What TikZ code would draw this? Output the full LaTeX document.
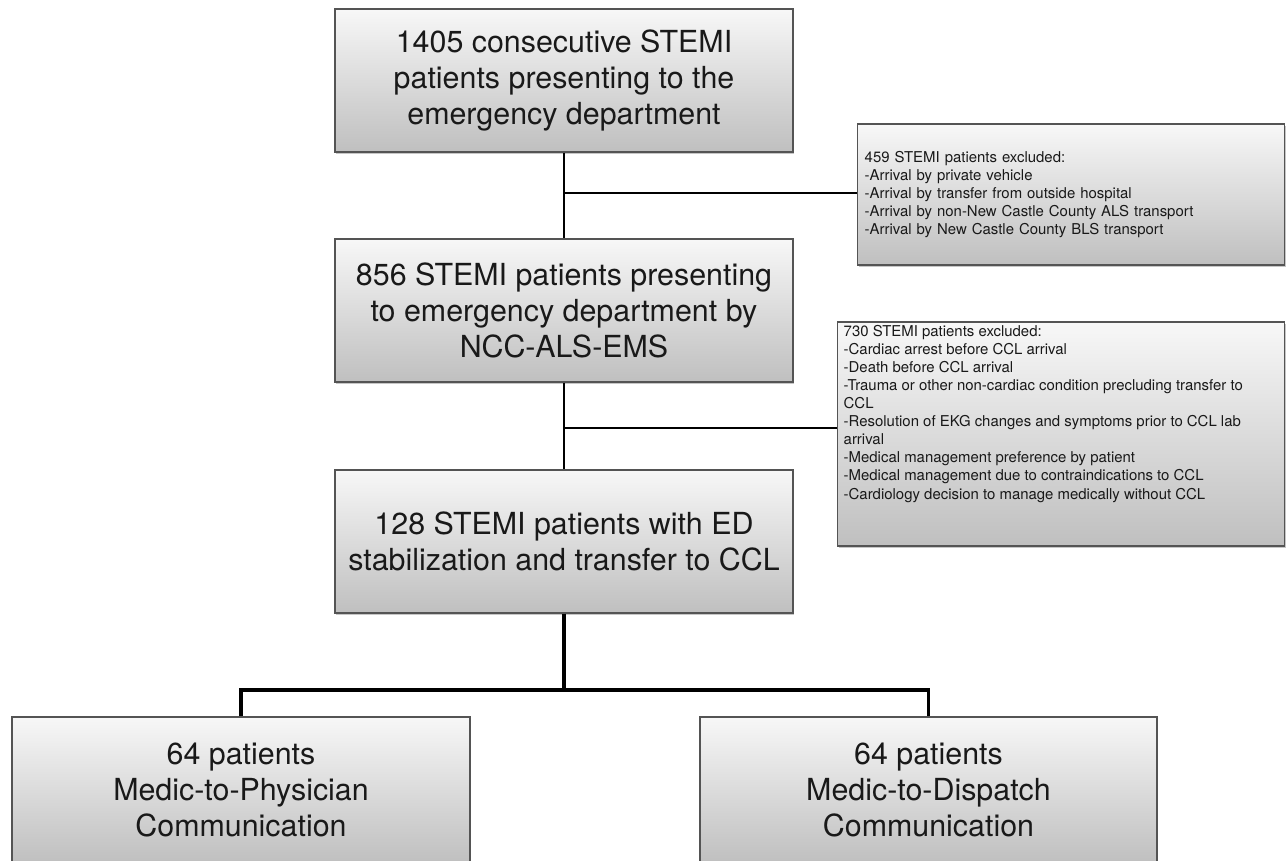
\documentclass[tikz,border=0pt]{standalone}
\usepackage{fontspec}
\setmainfont{TeX Gyre Heros}
\usepackage{xcolor}
\definecolor{BoxTop}{rgb}{0.97, 0.97, 0.97}
\definecolor{BoxBottom}{rgb}{0.75, 0.75, 0.75}
\definecolor{BoxBorder}{rgb}{0.33, 0.33, 0.33}
\definecolor{BoxText}{rgb}{0.1, 0.1, 0.1}
\usepackage{tikz}
\usetikzlibrary{positioning,shadows}
\tikzset{
	flowbox/.style={draw=BoxBorder, line width=0.8pt, top color=BoxTop, bottom color=BoxBottom,
		drop shadow={shadow xshift=0.8pt, shadow yshift=-1pt, opacity=0.45},
		align=center, inner sep=0pt, minimum width=9.16cm, minimum height=2.86cm,
		text=BoxText, font=\fontsize{17.3}{20.6}\selectfont},
	exclbox/.style={draw=BoxBorder, line width=0.8pt, top color=BoxTop, bottom color=BoxBottom,
		drop shadow={shadow xshift=0.8pt, shadow yshift=-1pt, opacity=0.45},
		anchor=west, align=left, inner xsep=0.14cm, inner ysep=0.06cm,
		text=BoxText, font=\fontsize{8.5}{10.3}\selectfont},
	link/.style={line width=1.6pt},
	split/.style={line width=2.2pt, line join=miter},
}

\begin{document}
\begin{tikzpicture}[x=0.02cm, y=-0.02cm]
	\useasboundingbox (0,0) rectangle (1286,860);
	% main chain
	\node[flowbox] (arrivals) at (564,80.5) {1405 consecutive STEMI\\patients presenting to the\\emergency department};
	\node[flowbox] (ems) at (564,310.5) {856 STEMI patients presenting\\to emergency department by\\NCC-ALS-EMS};
	\node[flowbox] (ccl) at (564,541.5) {128 STEMI patients with ED\\stabilization and transfer to CCL};
	\node[flowbox, minimum height=2.92cm] (physician) at (241,790) {64 patients\\Medic-to-Physician\\Communication};
	\node[flowbox, minimum width=9.14cm, minimum height=2.92cm] (dispatch) at (928.5,790) {64 patients\\Medic-to-Dispatch\\Communication};
	% exclusions
	\node[exclbox, text width=8.26cm, minimum height=2.82cm] (excl1) at (857,194.5) {459 STEMI patients excluded:\\-Arrival by private vehicle\\-Arrival by transfer from outside hospital\\-Arrival by non-New Castle County ALS transport\\-Arrival by New Castle County BLS transport};
	\node[exclbox, inner xsep=0.12cm] (excl2) at (837,434) {\parbox[c][4.36cm][t]{8.7cm}{730 STEMI patients excluded:\\-Cardiac arrest before CCL arrival\\-Death before CCL arrival\\-Trauma or other non-cardiac condition precluding transfer to\\CCL\\-Resolution of EKG changes and symptoms prior to CCL lab\\arrival\\-Medical management preference by patient\\-Medical management due to contraindications to CCL\\-Cardiology decision to manage medically without CCL}};
	\coordinate (cut1) at (564,193);
	\coordinate (cut2) at (564,428);
	\coordinate (fork) at (564,690);
	% connectors
	\draw[link] (arrivals) -- (ems);
	\draw[link] (ems) -- (ccl);
	\draw[link] (cut1) -- (cut1 -| excl1.west);
	\draw[link] (cut2) -- (cut2 -| excl2.west);
	\draw[split] (ccl) -- (fork);
	\draw[split] (physician.north) |- (fork) -| (dispatch.north);
\end{tikzpicture}
\end{document}
